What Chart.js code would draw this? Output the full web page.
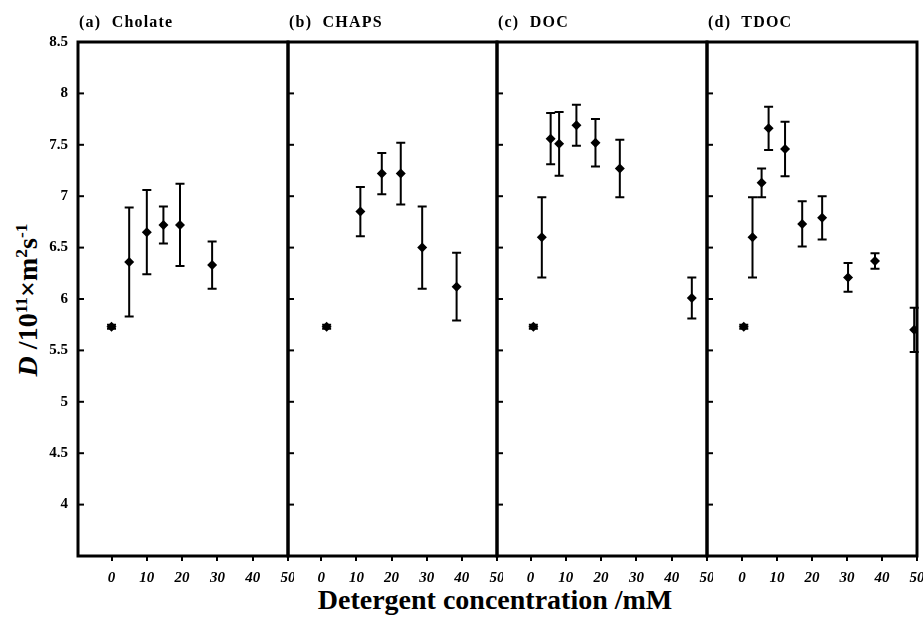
<!DOCTYPE html>
<html><head><meta charset="utf-8">
<script src="https://cdn.jsdelivr.net/npm/chart.js@4.4.1/dist/chart.umd.min.js"></script>
<style>
html,body{margin:0;padding:0;background:#fff;}
#wrap{position:relative;width:924px;height:631px;overflow:hidden;background:#fff;}
.pc{position:absolute;top:0;height:631px;}
.ptitle{position:absolute;top:13px;font:bold 16px 'Liberation Serif',serif;white-space:pre;color:#000;letter-spacing:1.2px;}
#ytitle{position:absolute;left:28px;top:300px;transform:translate(-50%,-50%) rotate(-90deg);font:bold 28px 'Liberation Serif',serif;white-space:nowrap;color:#000;}
#ytitle sup{font-size:62%;vertical-align:super;line-height:0;}
#xtitle{position:absolute;left:495px;top:600px;transform:translate(-50%,-50%);font:bold 28px 'Liberation Serif',serif;white-space:nowrap;color:#000;}
</style></head>
<body>
<div id="wrap">
  <div id="ytitle"><i>D</i> /10<sup>11</sup>×m<sup>2</sup>s<sup>-1</sup></div>
  <div id="xtitle">Detergent concentration /mM</div>
</div>
<script>
// ---- data ----
const panelTitles = ['(a)  Cholate', '(b)  CHAPS', '(c)  DOC', '(d)  TDOC'];

const cholateX   = [0, 5, 10, 14.7, 19.4, 28.5];
const cholateY   = [5.73, 6.36, 6.65, 6.72, 6.72, 6.33];
const cholateErr = [0.02, 0.53, 0.41, 0.18, 0.40, 0.23];

const chapsX   = [1.5, 11.1, 17.2, 22.6, 28.7, 38.5];
const chapsY   = [5.73, 6.85, 7.22, 7.22, 6.50, 6.12];
const chapsErr = [0.02, 0.24, 0.20, 0.30, 0.40, 0.33];

const docX   = [0.8, 3.2, 5.7, 8.1, 13.0, 18.4, 25.3, 45.7];
const docY   = [5.73, 6.60, 7.56, 7.51, 7.69, 7.52, 7.27, 6.01];
const docErr = [0.02, 0.39, 0.25, 0.31, 0.20, 0.23, 0.28, 0.20];

const tdocX   = [0.5, 3.0, 5.6, 7.6, 12.3, 17.2, 22.9, 30.3, 38.0, 49.2];
const tdocY   = [5.73, 6.60, 7.13, 7.66, 7.46, 6.73, 6.79, 6.21, 6.37, 5.70];
const tdocErr = [0.02, 0.39, 0.14, 0.21, 0.265, 0.22, 0.21, 0.14, 0.075, 0.215];

const xTickValues = [0, 10, 20, 30, 40, 50];
const yTickValues = [4, 4.5, 5, 5.5, 6, 6.5, 7, 7.5, 8, 8.5];
const xMins = [-9.5, -9.5, -9.5, -10];
const xMax = 50;
const yMin = 3.5, yMax = 8.5;

const seriesX = [cholateX, chapsX, docX, tdocX];
const seriesY = [cholateY, chapsY, docY, tdocY];
const seriesErr = [cholateErr, chapsErr, docErr, tdocErr];

// ---- layout ----
const panelLeft  = [78, 288, 497, 707];
const panelRight = [288, 497, 707, 917];
const TOP = 42, BOTTOM = 556, H = 631;

const framePlugin = {
  id: 'frame',
  beforeDatasetsDraw(chart) {
    const {ctx, scales: {x, y}} = chart;
    const ds = chart.data.datasets[0];
    const errs = ds.errs;
    ctx.save();
    ctx.strokeStyle = '#000';
    ctx.lineWidth = 2;
    ds.data.forEach((p, j) => {
      const px = x.getPixelForValue(p.x);
      const hi = y.getPixelForValue(p.y + errs[j]);
      const lo = y.getPixelForValue(p.y - errs[j]);
      ctx.beginPath();
      ctx.moveTo(px, hi); ctx.lineTo(px, lo);
      ctx.moveTo(px - 4.5, hi); ctx.lineTo(px + 4.5, hi);
      ctx.moveTo(px - 4.5, lo); ctx.lineTo(px + 4.5, lo);
      ctx.stroke();
    });
    ctx.restore();
  },
  afterDraw(chart) {
    const {ctx, chartArea: a, scales: {y}} = chart;
    ctx.save();
    ctx.strokeStyle = '#000';
    ctx.lineWidth = 2;
    yTickValues.forEach(v => {
      if (v >= yMax) return;
      const py = y.getPixelForValue(v);
      ctx.beginPath();
      ctx.moveTo(a.left, py); ctx.lineTo(a.left + 6, py);
      ctx.stroke();
    });
    ctx.lineWidth = 3;
    ctx.strokeRect(a.left, a.top, a.right - a.left, a.bottom - a.top);
    ctx.restore();
  }
};

const wrap = document.getElementById('wrap');
for (let i = 0; i < 4; i++) {
  const offL = i === 0 ? 78 : 30;
  const padR = 6;
  const w = offL + (panelRight[i] - panelLeft[i]) + padR;
  const div = document.createElement('div');
  div.className = 'pc';
  div.style.left = (panelLeft[i] - offL) + 'px';
  div.style.width = w + 'px';
  const cv = document.createElement('canvas');
  div.appendChild(cv);
  wrap.appendChild(div);

  const t = document.createElement('div');
  t.className = 'ptitle';
  t.style.left = (panelLeft[i] + 1) + 'px';
  t.textContent = panelTitles[i];
  wrap.appendChild(t);

  new Chart(cv, {
    type: 'scatter',
    data: {
      datasets: [{
        data: seriesX[i].map((xv, j) => ({x: xv, y: seriesY[i][j]})),
        errs: seriesErr[i],
        pointStyle: 'rectRot',
        pointRadius: 5,
        pointHoverRadius: 5,
        backgroundColor: '#000',
        borderColor: '#000',
        borderWidth: 0
      }]
    },
    options: {
      responsive: true,
      maintainAspectRatio: false,
      animation: false,
      events: [],
      layout: {padding: {top: TOP, right: padR, left: 0, bottom: 0}},
      plugins: {legend: {display: false}, tooltip: {enabled: false}},
      scales: {
        x: {
          type: 'linear',
          min: xMins[i], max: xMax,
          afterBuildTicks: s => { s.ticks = xTickValues.map(v => ({value: v})); },
          afterFit: s => { s.height = H - BOTTOM; s.paddingLeft = 0; s.paddingRight = 0; },
          grid: {display: true, drawOnChartArea: false, drawTicks: true, tickLength: 5, color: '#000', lineWidth: 2},
          border: {display: false},
          ticks: {color: '#000', font: {family: 'Liberation Serif', weight: 'bold', style: 'italic', size: 15}, padding: 8, maxRotation: 0, autoSkip: false,
                  callback: v => String(v)}
        },
        y: {
          type: 'linear',
          min: yMin, max: yMax,
          afterBuildTicks: s => { s.ticks = yTickValues.map(v => ({value: v})); },
          afterFit: s => { s.width = offL; s.paddingTop = 0; s.paddingBottom = 0; },
          grid: {display: false, drawTicks: false},
          border: {display: false},
          ticks: {display: i === 0, color: '#000', font: {family: 'Liberation Serif', weight: 'bold', size: 15}, padding: 10,
                  callback: v => String(v)}
        }
      }
    },
    plugins: [framePlugin]
  });
}
</script>
</body></html>
